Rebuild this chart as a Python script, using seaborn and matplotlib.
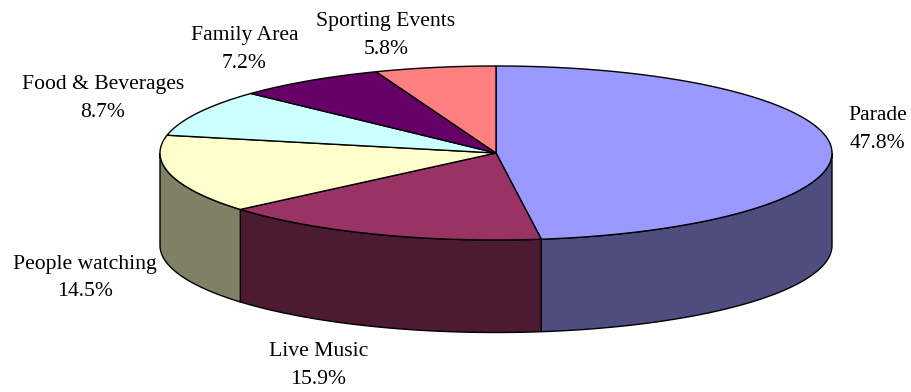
import numpy as np
import matplotlib
matplotlib.use("Agg")
import matplotlib.pyplot as plt
import seaborn as sns

categories = ["Parade", "Live Music", "People watching", "Food & Beverages", "Family Area", "Sporting Events"]
shares = [47.8, 15.9, 14.5, 8.7, 7.2, 5.8]
top_colors = ["#9999FF", "#993366", "#FFFFCC", "#CCFFFF", "#660066", "#FF8080"]
side_colors = ["#4D4D80", "#4D1A33", "#808066", "#668080", "#330033", "#804040"]
label_xy = [(877.5, 120), (318.5, 356), (84.7, 269), (103, 89), (244.5, 40), (386, 26)]

CX, CY, RX, RY, DEPTH = 496.0, 153.0, 336.0, 87.0, 92.5
LW = 1.0
LINE_PITCH = 27.5
FONT_PT = 21.6 * 72 / 100

sns.set_theme(style="white")
plt.rcParams["font.family"] = ["Liberation Serif", "DejaVu Serif"]

fig = plt.figure(figsize=(9.12, 3.92), dpi=100, facecolor="white")
ax = fig.add_axes([0, 0, 1, 1])
ax.set_xlim(0, 912)
ax.set_ylim(392, 0)
ax.axis("off")


def rim(a, b, dy=0.0):
    t = np.radians(np.linspace(a, b, max(int(abs(b - a) * 2), 2)))
    return CX + RX * np.sin(t), CY + dy - RY * np.cos(t)


edges = 360 * np.cumsum([0] + shares) / sum(shares)

# walls: only the front half of the rim (90..270 degrees from the top) is visible
for i in range(len(shares)):
    a, b = max(edges[i], 90), min(edges[i + 1], 270)
    if b <= a:
        continue
    x1, y1 = rim(a, b)
    x2, y2 = rim(a, b, DEPTH)
    ax.fill(np.r_[x1, x2[::-1]], np.r_[y1, y2[::-1]], facecolor=side_colors[i],
            edgecolor="black", linewidth=LW, joinstyle="miter")

# top face
for i in range(len(shares)):
    x, y = rim(edges[i], edges[i + 1])
    ax.fill(np.r_[CX, x], np.r_[CY, y], facecolor=top_colors[i],
            edgecolor="black", linewidth=LW, joinstyle="miter")

for name, val, (lx, ly) in zip(categories, shares, label_xy):
    ax.text(lx, ly, name, ha="center", va="baseline", fontsize=FONT_PT, color="black")
    ax.text(lx, ly + LINE_PITCH, f"{val:.1f}%", ha="center", va="baseline", fontsize=FONT_PT, color="black")

fig.savefig("out.png", dpi=100, facecolor="white")
